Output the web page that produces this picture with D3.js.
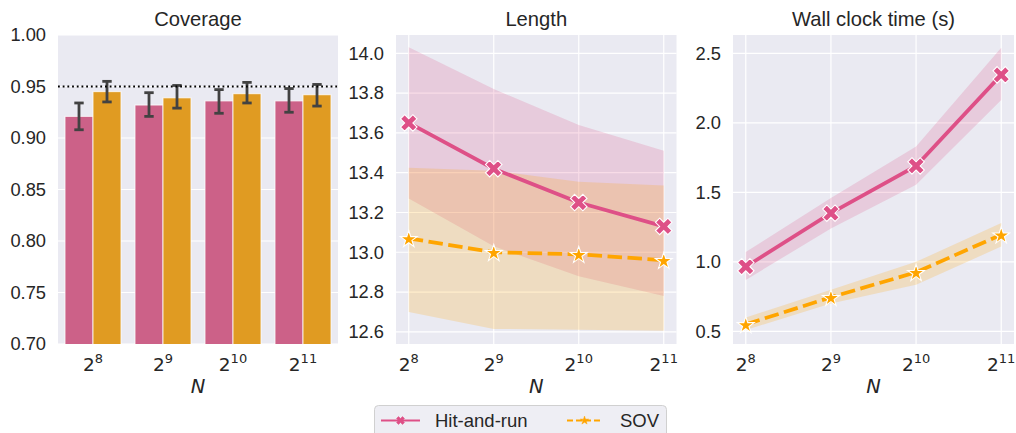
<!DOCTYPE html>
<html>
<head>
<meta charset="utf-8">
<script src="https://cdn.jsdelivr.net/npm/d3@7"></script>
<style>
  html, body { margin: 0; padding: 0; background: #ffffff; }
  svg { display: block; }
</style>
</head>
<body>
<svg id="chart" width="1016" height="433"></svg>
<script>
// ---------------- data ----------------
const exponents = [8, 9, 10, 11];           // N = 2^k
const methods = ["Hit-and-run", "SOV"];
const titles = ["Coverage", "Length", "Wall clock time (s)"];

const coverageHit   = [0.921, 0.932, 0.936, 0.936];
const coverageHitLo = [0.908, 0.921, 0.924, 0.925];
const coverageHitHi = [0.934, 0.944, 0.947, 0.948];
const coverageSOV   = [0.945, 0.939, 0.943, 0.942];
const coverageSOVLo = [0.935, 0.929, 0.934, 0.931];
const coverageSOVHi = [0.955, 0.951, 0.954, 0.952];
const coverageTarget = 0.95;

const lengthHit   = [13.65, 13.42, 13.25, 13.13];
const lengthHitLo = [13.27, 13.03, 12.88, 12.78];
const lengthHitHi = [14.03, 13.82, 13.64, 13.51];
const lengthSOV   = [13.07, 13.00, 12.99, 12.96];
const lengthSOVLo = [12.70, 12.615, 12.61, 12.605];
const lengthSOVHi = [13.425, 13.41, 13.355, 13.335];

const timeHit   = [0.965, 1.35, 1.69, 2.345];
const timeHitLo = [0.87, 1.24, 1.555, 2.165];
const timeHitHi = [1.07, 1.46, 1.83, 2.54];
const timeSOV   = [0.55, 0.745, 0.925, 1.195];
const timeSOVLo = [0.51, 0.70, 0.835, 1.11];
const timeSOVHi = [0.60, 0.80, 1.00, 1.28];

const coverageTicks = [0.70, 0.75, 0.80, 0.85, 0.90, 0.95, 1.00];
const lengthTicks = [12.6, 12.8, 13.0, 13.2, 13.4, 13.6, 13.8, 14.0];
const timeTicks = [0.5, 1.0, 1.5, 2.0, 2.5];

// ---------------- style ----------------
const BG = "#eaeaf2";
const PINK = "#de5087";
const ORANGE = "#ffa500";
const PINK_BAR = "#cc6188";
const ORANGE_BAR = "#e09b22";
const TXT = "#262626";
const SANS = "'Liberation Sans', Arial, sans-serif";
const MATH = "'DejaVu Sans', sans-serif";

const svg = d3.select("#chart");
const yTop = 35, yBot = 344;
const panels = [
  {x0: 58, x1: 338},
  {x0: 396, x1: 676.5},
  {x0: 733, x1: 1014}
];

function panelBase(i, yScale, ticks, fmt) {
  const p = panels[i];
  const g = svg.append("g");
  g.append("rect").attr("x", p.x0).attr("y", yTop)
    .attr("width", p.x1 - p.x0).attr("height", yBot - yTop).attr("fill", BG);
  g.selectAll("line.hg").data(ticks).join("line")
    .attr("x1", p.x0).attr("x2", p.x1)
    .attr("y1", d => yScale(d)).attr("y2", d => yScale(d))
    .attr("stroke", "#ffffff").attr("stroke-width", 1.2);
  const ax = g.append("g").attr("transform", `translate(${p.x0},0)`)
    .call(d3.axisLeft(yScale).tickValues(ticks).tickFormat(fmt).tickSize(0).tickPadding(12));
  ax.select(".domain").remove();
  ax.selectAll("text").attr("font-family", SANS).attr("font-size", 18.3).attr("fill", TXT);
  g.append("text").attr("x", (p.x0 + p.x1) / 2).attr("y", 26)
    .attr("text-anchor", "middle").attr("font-family", SANS).attr("font-size", 20.2)
    .attr("fill", TXT).text(titles[i]);
  g.append("text").attr("x", (p.x0 + p.x1) / 2).attr("y", 393)
    .attr("text-anchor", "middle").attr("font-family", MATH).attr("font-style", "italic")
    .attr("font-size", 19.5).attr("fill", TXT).text("N");
  return g;
}

function xTickLabels(g, xpos) {
  exponents.forEach(k => {
    const t = g.append("text").attr("x", xpos(k)).attr("y", 371)
      .attr("text-anchor", "middle").attr("font-family", MATH).attr("fill", TXT)
      .attr("font-size", 18.5);
    t.append("tspan").text("2");
    t.append("tspan").attr("dy", -8).attr("font-size", 13).text(String(k));
  });
}

// ---------------- panel 1: coverage bars ----------------
{
  const p = panels[0];
  const y = d3.scaleLinear().domain([0.70, 1.00]).range([yBot, yTop]);
  const g = panelBase(0, y, coverageTicks, d3.format(".2f"));
  const x = d3.scaleBand().domain(exponents).range([p.x0, p.x1]).paddingInner(0.2).paddingOuter(0.1);
  const xi = d3.scaleBand().domain(methods).range([0, x.bandwidth()]);
  const series = [
    {m: methods[0], v: coverageHit, lo: coverageHitLo, hi: coverageHitHi, c: PINK_BAR},
    {m: methods[1], v: coverageSOV, lo: coverageSOVLo, hi: coverageSOVHi, c: ORANGE_BAR}
  ];
  svg.append("clipPath").attr("id", "clip0").append("rect")
    .attr("x", p.x0).attr("y", yTop).attr("width", p.x1 - p.x0).attr("height", yBot - yTop);
  const gb = g.append("g").attr("clip-path", "url(#clip0)");
  series.forEach(s => {
    gb.selectAll(null).data(exponents).join("rect")
      .attr("x", k => x(k) + xi(s.m))
      .attr("width", xi.bandwidth())
      .attr("y", (k, i) => y(s.v[i]))
      .attr("height", (k, i) => y(0.70) - y(s.v[i]) + 2)
      .attr("fill", s.c).attr("stroke", "#ffffff").attr("stroke-width", 1).attr("stroke-opacity", 0.8);
  });
  series.forEach(s => {
    exponents.forEach((k, i) => {
      const cx = x(k) + xi(s.m) + xi.bandwidth() / 2;
      const ge = gb.append("g").attr("stroke", "#424242").attr("stroke-width", 2.8);
      ge.append("line").attr("x1", cx).attr("x2", cx).attr("y1", y(s.lo[i])).attr("y2", y(s.hi[i]));
      ge.append("line").attr("x1", cx - 4.7).attr("x2", cx + 4.7).attr("y1", y(s.lo[i])).attr("y2", y(s.lo[i]));
      ge.append("line").attr("x1", cx - 4.7).attr("x2", cx + 4.7).attr("y1", y(s.hi[i])).attr("y2", y(s.hi[i]));
    });
  });
  gb.append("line").attr("x1", p.x0).attr("x2", p.x1)
    .attr("y1", y(coverageTarget)).attr("y2", y(coverageTarget))
    .attr("stroke", "#000000").attr("stroke-width", 1.8).attr("stroke-dasharray", "1.8 2.9");
  xTickLabels(g, k => x(k) + x.bandwidth() / 2);
}

// ---------------- markers ----------------
function xMarkerPath(s) {
  const pts = [[0.25,0],[0.5,0.25],[0.75,0],[1,0.25],[0.75,0.5],[1,0.75],[0.75,1],[0.5,0.75],[0.25,1],[0,0.75],[0.25,0.5],[0,0.25]];
  return "M" + pts.map(q => [(q[0]-0.5)*s, (q[1]-0.5)*s].join(",")).join("L") + "Z";
}
const starPath = size => d3.symbol().type(d3.symbolStar).size(size)();

// ---------------- line panels ----------------
function linePanel(i, vals, yDomain, ticks) {
  const p = panels[i];
  const y = d3.scaleLinear().domain(yDomain).range([yBot, yTop]);
  const x = d3.scaleLinear().domain([8 - 0.15, 11 + 0.15]).range([p.x0, p.x1]);
  const g = panelBase(i, y, ticks, d3.format(".1f"));
  g.selectAll(null).data(exponents).join("line")
    .attr("x1", k => x(k)).attr("x2", k => x(k)).attr("y1", yTop).attr("y2", yBot)
    .attr("stroke", "#ffffff").attr("stroke-width", 1.2);
  const cid = "clip" + i;
  svg.append("clipPath").attr("id", cid).append("rect")
    .attr("x", p.x0).attr("y", yTop).attr("width", p.x1 - p.x0).attr("height", yBot - yTop);
  const gc = g.append("g").attr("clip-path", `url(#${cid})`);
  const series = [
    {v: vals[0], lo: vals[1], hi: vals[2], c: PINK, dash: null, marker: "x"},
    {v: vals[3], lo: vals[4], hi: vals[5], c: ORANGE, dash: "14.5 5.5", marker: "star"}
  ];
  series.forEach(s => {
    const area = d3.area().x(k => x(k)).y0((k, j) => y(s.lo[j])).y1((k, j) => y(s.hi[j]));
    gc.append("path").attr("d", area(exponents)).attr("fill", s.c).attr("fill-opacity", 0.2);
  });
  series.forEach(s => {
    const line = d3.line().x(k => x(k)).y((k, j) => y(s.v[j]));
    gc.append("path").attr("d", line(exponents)).attr("fill", "none")
      .attr("stroke", s.c).attr("stroke-width", 3.75)
      .attr("stroke-dasharray", s.dash);
  });
  series.forEach(s => {
    exponents.forEach((k, j) => {
      g.append("path")
        .attr("d", s.marker === "x" ? xMarkerPath(16.5) : starPath(88))
        .attr("transform", `translate(${x(k)},${y(s.v[j]) + (s.marker === "x" ? 0 : 1)})`)
        .attr("fill", s.c).attr("stroke", "#ffffff").attr("stroke-width", 1.1);
    });
  });
  xTickLabels(g, x);
}

linePanel(1, [lengthHit, lengthHitLo, lengthHitHi, lengthSOV, lengthSOVLo, lengthSOVHi], [12.539, 14.092], lengthTicks);
linePanel(2, [timeHit, timeHitLo, timeHitHi, timeSOV, timeSOVLo, timeSOVHi], [0.409, 2.632], timeTicks);

// ---------------- legend ----------------
{
  const lg = svg.append("g");
  lg.append("rect").attr("x", 374.5).attr("y", 405.5).attr("width", 292).attr("height", 40).attr("rx", 4)
    .attr("fill", "#eeeef4").attr("stroke", "#d0d0d0").attr("stroke-width", 1);
  const items = [
    {m: methods[0], c: PINK, dash: null, marker: "x", x1: 381, x2: 420, tx: 435},
    {m: methods[1], c: ORANGE, dash: "6 3", marker: "star", x1: 567, x2: 602, tx: 620}
  ];
  items.forEach(it => {
    lg.append("line").attr("x1", it.x1).attr("x2", it.x2).attr("y1", 420.5).attr("y2", 420.5)
      .attr("stroke", it.c).attr("stroke-width", 2).attr("stroke-dasharray", it.dash);
    lg.append("path")
      .attr("d", it.marker === "x" ? xMarkerPath(8) : starPath(22))
      .attr("transform", `translate(${(it.x1 + it.x2) / 2},420.5)`)
      .attr("fill", it.c).attr("stroke", it.c).attr("stroke-width", 0.5);
    lg.append("text").attr("x", it.tx).attr("y", 427).attr("font-family", SANS)
      .attr("font-size", 18.5).attr("fill", TXT).text(it.m);
  });
}
</script>
</body>
</html>
